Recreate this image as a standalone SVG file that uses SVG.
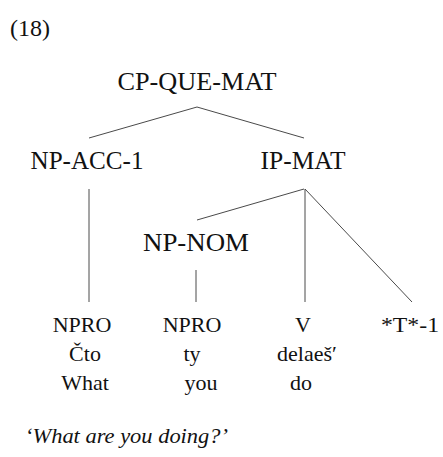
<svg xmlns="http://www.w3.org/2000/svg" width="443" height="457" viewBox="0 0 443 457" font-family="Liberation Serif, Times New Roman, DejaVu Serif, serif">
  <style>
    text { font-family: 'Liberation Serif', 'Times New Roman', 'DejaVu Serif', serif; fill: #111; }
    .cat { font-size: 25px; text-anchor: middle; }
    .leaf { font-size: 22px; text-anchor: middle; }
    .edge { stroke: #4a4a4a; stroke-width: 1; fill: none; }
  </style>
  <rect width="443" height="457" fill="#fff"/>
  <text x="10" y="36" font-size="24">(18)</text>

  <g id="connectors">
    <line class="edge" x1="197" y1="107" x2="89" y2="138"/>
    <line class="edge" x1="197" y1="107" x2="304" y2="138"/>
    <line class="edge" x1="89" y1="189" x2="89" y2="302"/>
    <line class="edge" x1="304" y1="189" x2="197" y2="220"/>
    <line class="edge" x1="305" y1="189" x2="305" y2="302"/>
    <line class="edge" x1="305" y1="189" x2="412" y2="302"/>
    <line class="edge" x1="196" y1="270" x2="196" y2="302"/>
  </g>

  <g id="cp-que-mat"><text class="cat" x="197" y="90" textLength="159" lengthAdjust="spacingAndGlyphs">CP-QUE-MAT</text></g>
  <g id="np-acc-1"><text class="cat" x="87" y="169" textLength="113" lengthAdjust="spacingAndGlyphs">NP-ACC-1</text></g>
  <g id="ip-mat"><text class="cat" x="303" y="169" textLength="85" lengthAdjust="spacingAndGlyphs">IP-MAT</text></g>
  <g id="np-nom"><text class="cat" x="196" y="251" textLength="106" lengthAdjust="spacingAndGlyphs">NP-NOM</text></g>

  <g id="npro-1">
    <text class="leaf" x="82" y="332">NPRO</text>
    <text class="leaf" x="85" y="361">Čto</text>
    <text class="leaf" x="85" y="390">What</text>
  </g>
  <g id="npro-2">
    <text class="leaf" x="192" y="332">NPRO</text>
    <text class="leaf" x="192" y="361">ty</text>
    <text class="leaf" x="201" y="390">you</text>
  </g>
  <g id="v">
    <text class="leaf" x="303" y="332">V</text>
    <text class="leaf" x="307" y="361">delaeš′</text>
    <text class="leaf" x="301" y="390">do</text>
  </g>
  <g id="trace">
    <text class="leaf" x="410" y="332" textLength="58" lengthAdjust="spacingAndGlyphs">*T*-1</text>
  </g>

  <text x="25" y="443" font-size="22" font-style="italic" textLength="203" lengthAdjust="spacingAndGlyphs">‘What are you doing?’</text>
</svg>
